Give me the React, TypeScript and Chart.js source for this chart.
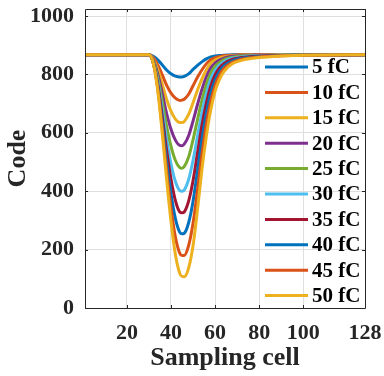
import React, { useEffect, useRef } from "react";
import { Chart, registerables } from "chart.js";

Chart.register(...registerables);

const FONT = "'Liberation Serif', 'Times New Roman', serif";

const X_SAMPLES = [1, 30, 32, 34, 36, 38, 40, 42, 44, 45, 46, 48, 50, 52, 54, 56, 58, 60, 62, 64, 68, 72, 76, 80, 90, 100, 128];

const FC5 = [867, 867, 862, 850, 833, 815, 802, 794, 791, 791, 793, 802, 817, 831, 843, 853, 860, 863, 865, 866, 867, 867, 867, 867, 867, 867, 867];
const FC10 = [867, 867, 857, 832, 799, 763, 736, 719, 711, 712, 715, 732, 761, 790, 815, 836, 850, 857, 861, 864, 866, 867, 867, 867, 867, 867, 867];
const FC15 = [867, 867, 852, 817, 767, 715, 674, 647, 635, 635, 639, 663, 703, 746, 784, 815, 838, 849, 856, 860, 864, 866, 866, 866, 867, 867, 867];
const FC20 = [867, 867, 848, 802, 737, 667, 612, 575, 557, 556, 561, 590, 640, 696, 748, 791, 822, 839, 849, 856, 862, 864, 865, 866, 866, 867, 867];
const FC25 = [867, 867, 845, 790, 709, 623, 554, 505, 481, 479, 484, 517, 576, 644, 710, 764, 804, 828, 841, 851, 859, 863, 864, 865, 866, 867, 867];
const FC30 = [867, 867, 842, 777, 682, 579, 494, 433, 402, 400, 404, 440, 505, 587, 667, 733, 783, 814, 832, 844, 856, 860, 863, 864, 866, 866, 867];
const FC35 = [867, 867, 840, 767, 659, 541, 442, 368, 329, 326, 329, 366, 436, 529, 623, 700, 760, 798, 822, 837, 852, 858, 861, 863, 865, 866, 867];
const FC40 = [867, 867, 838, 759, 638, 506, 392, 306, 259, 254, 256, 292, 365, 468, 576, 665, 735, 781, 810, 829, 847, 855, 859, 861, 865, 866, 867];
const FC45 = [867, 867, 837, 751, 618, 472, 343, 243, 187, 180, 180, 214, 290, 402, 525, 627, 707, 762, 797, 820, 842, 852, 857, 860, 864, 866, 867];
const FC50 = [867, 867, 837, 745, 601, 441, 297, 183, 118, 108, 107, 137, 213, 335, 472, 586, 677, 742, 783, 810, 837, 848, 854, 858, 863, 866, 867];

const SERIES = [FC5, FC10, FC15, FC20, FC25, FC30, FC35, FC40, FC45, FC50];
const LABELS = ["5 fC", "10 fC", "15 fC", "20 fC", "25 fC", "30 fC", "35 fC", "40 fC", "45 fC", "50 fC"];
const COLORS = ["#0072BD", "#D95319", "#EDB120", "#7E2F8E", "#77AC30", "#4DBEEE", "#A2142F", "#0072BD", "#D95319", "#EDB120"];

const X_TICKS = [20, 40, 60, 80, 100, 128];
const Y_TICKS = [0, 200, 400, 600, 800, 1000];

const AXIS_COLOR = "#262626";
const GRID_COLOR = "#dfdfdf";

const framePlugin = {
  id: "frameAndLegend",
  afterDatasetsDraw(chart: any) {
    const { ctx, chartArea } = chart;
    const { left, right, top, bottom } = chartArea;
    const xs = chart.scales.x;
    const ys = chart.scales.y;
    ctx.save();
    ctx.strokeStyle = AXIS_COLOR;
    ctx.lineWidth = 1;
    ctx.beginPath();
    ctx.rect(Math.round(left) + 0.5, Math.round(top) + 0.5, Math.round(right - left), Math.round(bottom - top));
    ctx.stroke();
    const tl = 3;
    ctx.beginPath();
    for (const v of X_TICKS) {
      const px = Math.round(xs.getPixelForValue(v)) + 0.5;
      ctx.moveTo(px, bottom);
      ctx.lineTo(px, bottom - tl);
      ctx.moveTo(px, top);
      ctx.lineTo(px, top + tl);
    }
    for (const v of Y_TICKS) {
      const py = Math.round(ys.getPixelForValue(v)) + 0.5;
      ctx.moveTo(left, py);
      ctx.lineTo(left + tl, py);
      ctx.moveTo(right, py);
      ctx.lineTo(right - tl, py);
    }
    ctx.stroke();

    // legend inside the axes
    const lx0 = 265;
    const lx1 = 308;
    const ty0 = 67;
    const dy = 25.4;
    ctx.font = `bold 21px ${FONT}`;
    ctx.textAlign = "left";
    ctx.textBaseline = "middle";
    LABELS.forEach((lab, i) => {
      const y = ty0 + i * dy;
      ctx.strokeStyle = COLORS[i];
      ctx.lineWidth = 3;
      ctx.beginPath();
      ctx.moveTo(lx0, y);
      ctx.lineTo(lx1, y);
      ctx.stroke();
      ctx.fillStyle = "#000";
      ctx.fillText(lab, 312, y + 1);
    });
    ctx.restore();
  },
};

export default function App() {
  const ref = useRef<HTMLCanvasElement>(null);
  useEffect(() => {
    const chart = new Chart(ref.current as HTMLCanvasElement, {
      type: "line",
      data: {
        datasets: SERIES.map((s, i) => ({
          label: LABELS[i],
          data: X_SAMPLES.map((x, j) => ({ x, y: s[j] })),
          borderColor: COLORS[i],
          backgroundColor: COLORS[i],
          borderWidth: 3,
          pointRadius: 0,
          fill: false,
          cubicInterpolationMode: "monotone",
          order: SERIES.length - i,
        })),
      },
      options: {
        responsive: false,
        animation: false,
        events: [],
        layout: { padding: { top: 9, right: 19, left: 0, bottom: 0 } },
        plugins: { legend: { display: false }, tooltip: { enabled: false } },
        scales: {
          x: {
            type: "linear",
            min: 1,
            max: 128,
            afterBuildTicks: (s: any) => {
              s.ticks = X_TICKS.map((v) => ({ value: v }));
            },
            afterFit: (s: any) => {
              s.height = 68;
              s.paddingLeft = 0;
              s.paddingRight = 0;
            },
            grid: { color: GRID_COLOR, drawTicks: false, lineWidth: 1 },
            border: { display: false },
            ticks: {
              font: { family: FONT, size: 22, weight: "bold" },
              color: AXIS_COLOR,
              padding: 12,
              maxRotation: 0,
              autoSkip: false,
              callback: (v: any) => String(v),
            },
            title: {
              display: true,
              text: "Sampling cell",
              font: { family: FONT, size: 26, weight: "bold" },
              color: AXIS_COLOR,
              padding: { top: 0, bottom: 2 },
            },
          },
          y: {
            type: "linear",
            min: 0,
            max: 1024,
            afterBuildTicks: (s: any) => {
              s.ticks = Y_TICKS.map((v) => ({ value: v }));
            },
            afterFit: (s: any) => {
              s.width = 85;
              s.paddingTop = 0;
              s.paddingBottom = 0;
            },
            grid: { color: GRID_COLOR, drawTicks: false, lineWidth: 1 },
            border: { display: false },
            ticks: {
              font: { family: FONT, size: 22, weight: "bold" },
              color: AXIS_COLOR,
              padding: 11,
              autoSkip: false,
              callback: (v: any) => String(v),
            },
            title: {
              display: true,
              text: "Code",
              font: { family: FONT, size: 26, weight: "bold" },
              color: AXIS_COLOR,
              padding: { top: 3, bottom: 0 },
            },
          },
        },
      },
      plugins: [framePlugin],
    } as any);
    return () => chart.destroy();
  }, []);
  return (
    <div style={{ position: "fixed", left: 0, top: 0, width: 384, height: 376, background: "#fff" }}>
      <canvas ref={ref} width={384} height={376} style={{ display: "block", width: 384, height: 376 }} />
    </div>
  );
}
